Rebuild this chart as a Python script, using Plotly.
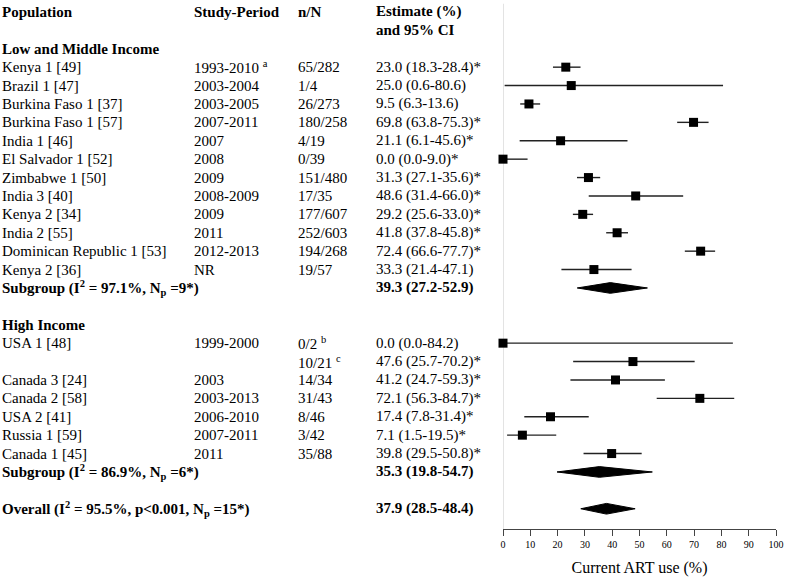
import plotly.graph_objects as go

# ---------------- data ----------------
lmic_names = ["Kenya 1 [49]", "Brazil 1 [47]", "Burkina Faso 1 [37]", "Burkina Faso 1 [57]",
              "India 1 [46]", "El Salvador 1 [52]", "Zimbabwe 1 [50]", "India 3 [40]",
              "Kenya 2 [34]", "India 2 [55]", "Dominican Republic 1 [53]", "Kenya 2 [36]"]
lmic_period = ["1993-2010 <sup>a</sup>", "2003-2004", "2003-2005", "2007-2011", "2007", "2008",
               "2009", "2008-2009", "2009", "2011", "2012-2013", "NR"]
lmic_nN = ["65/282", "1/4", "26/273", "180/258", "4/19", "0/39", "151/480", "17/35",
           "177/607", "252/603", "194/268", "19/57"]
lmic_est = [23.0, 25.0, 9.5, 69.8, 21.1, 0.0, 31.3, 48.6, 29.2, 41.8, 72.4, 33.3]
lmic_lo = [18.3, 0.6, 6.3, 63.8, 6.1, 0.0, 27.1, 31.4, 25.6, 37.8, 66.6, 21.4]
lmic_hi = [28.4, 80.6, 13.6, 75.3, 45.6, 9.0, 35.6, 66.0, 33.0, 45.8, 77.7, 47.1]
lmic_star = [1, 0, 0, 1, 1, 1, 1, 1, 1, 1, 1, 0]
lmic_sub = [39.3, 27.2, 52.9]
lmic_i2, lmic_np = 97.1, 9

hic_names = ["USA 1 [48]", "", "Canada 3 [24]", "Canada 2 [58]", "USA 2 [41]",
             "Russia 1 [59]", "Canada 1 [45]"]
hic_period = ["1999-2000", "", "2003", "2003-2013", "2006-2010", "2007-2011", "2011"]
hic_nN = ["0/2 <sup>b</sup>", "10/21 <sup>c</sup>", "14/34", "31/43", "8/46", "3/42", "35/88"]
hic_est = [0.0, 47.6, 41.2, 72.1, 17.4, 7.1, 39.8]
hic_lo = [0.0, 25.7, 24.7, 56.3, 7.8, 1.5, 29.5]
hic_hi = [84.2, 70.2, 59.3, 84.7, 31.4, 19.5, 50.8]
hic_star = [0, 1, 1, 1, 1, 1, 1]
hic_sub = [35.3, 19.8, 54.7]
hic_i2, hic_np = 86.9, 6

overall = [37.9, 28.5, 48.4]
overall_i2, overall_p, overall_np = 95.5, "p&lt;0.001", 15

xticks = list(range(0, 101, 10))

# ---------------- layout helpers ----------------
FONT = "Liberation Serif, Times New Roman, serif"
FS = 15
W, H = 786, 578
COL_X = [1, 193, 297, 375]   # pixel positions of text columns

fig = go.Figure()
ann = []


def text(col, row, s, bold=False):
    ann.append(dict(x=COL_X[col] / W, xref="paper", y=row, yref="y", text=("<b>%s</b>" % s) if bold else s,
                    showarrow=False, xanchor="left", yanchor="middle", borderpad=0,
                    font=dict(family=FONT, size=FS, color="black")))


def fmt(e, lo, hi, star):
    return "%.1f (%.1f-%.1f)%s" % (e, lo, hi, "*" if star else "")


# header
text(0, 0, "Population", True)
text(1, 0, "Study-Period", True)
text(2, 0, "n/N", True)
text(3, 0, "Estimate (%)", True)
text(3, 1, "and 95% CI", True)

pts_x, pts_y, seg_x, seg_y = [], [], [], []
diamonds = []


def group(start_row, title, names, period, nN, est, lo, hi, star, sub, i2, npv):
    text(0, start_row, title, True)
    r = start_row + 1
    for i in range(len(names)):
        if names[i]:
            text(0, r, names[i])
        if period[i]:
            text(1, r, period[i])
        text(2, r, nN[i])
        text(3, r, fmt(est[i], lo[i], hi[i], star[i]))
        pts_x.append(est[i]); pts_y.append(r)
        seg_x.extend([lo[i], hi[i], None]); seg_y.extend([r, r, None])
        r += 1
    text(0, r, "Subgroup (I<sup>2</sup> = %.1f%%, N<sub>p</sub> =%d*)" % (i2, npv), True)
    text(3, r, "%.1f (%.1f-%.1f)" % tuple(sub), True)
    diamonds.append((sub, r))
    return r


end1 = group(2, "Low and Middle Income", lmic_names, lmic_period, lmic_nN, lmic_est, lmic_lo,
             lmic_hi, lmic_star, lmic_sub, lmic_i2, lmic_np)
end2 = group(end1 + 2, "High Income", hic_names, hic_period, hic_nN, hic_est, hic_lo,
             hic_hi, hic_star, hic_sub, hic_i2, hic_np)
orow = end2 + 2
text(0, orow, "Overall (I<sup>2</sup> = %.1f%%, %s, N<sub>p</sub> =%d*)" % (overall_i2, overall_p, overall_np), True)
text(3, orow, "%.1f (%.1f-%.1f)" % tuple(overall), True)
diamonds.append((overall, orow))

# CI lines
fig.add_trace(go.Scatter(x=seg_x, y=seg_y, mode="lines", line=dict(color="#222", width=1.4),
                         hoverinfo="skip", showlegend=False, cliponaxis=False))
# point estimates
fig.add_trace(go.Scatter(x=pts_x, y=pts_y, mode="markers",
                         marker=dict(symbol="square", size=9, color="black"),
                         showlegend=False, cliponaxis=False))
# diamonds
DH = 0.29
for (e, lo, hi), r in diamonds:
    fig.add_trace(go.Scatter(x=[lo, e, hi, e, lo], y=[r, r - DH, r, r + DH, r], mode="lines",
                             fill="toself", fillcolor="black", line=dict(color="black", width=1),
                             showlegend=False, hoverinfo="skip"))

ymax = orow + 1.1
fig.add_shape(type="line", x0=0, x1=0, xref="x", y0=-0.45, y1=ymax, yref="y",
              line=dict(color="#d0d0d0", width=1.2), layer="below")

fig.update_layout(
    width=W, height=H,
    margin=dict(l=0, r=0, t=0, b=49, autoexpand=False),
    paper_bgcolor="white", plot_bgcolor="white",
    annotations=ann,
    xaxis=dict(domain=[503 / W, 776 / W], range=[0, 100], tickvals=xticks, ticks="outside", ticklen=6,
               tickcolor="#444", showline=True, linecolor="#444", linewidth=1, showgrid=False,
               zeroline=False, automargin=False, tickfont=dict(family=FONT, size=10, color="black"),
               title=dict(text="Current ART use (%)", font=dict(family=FONT, size=16, color="black"),
                          standoff=12)),
    yaxis=dict(range=[ymax, -0.65], visible=False, showgrid=False, zeroline=False),
)

fig.write_html("out.html", config={"displayModeBar": False},
               post_script="document.body.style.margin='0';document.body.style.overflow='hidden';")
